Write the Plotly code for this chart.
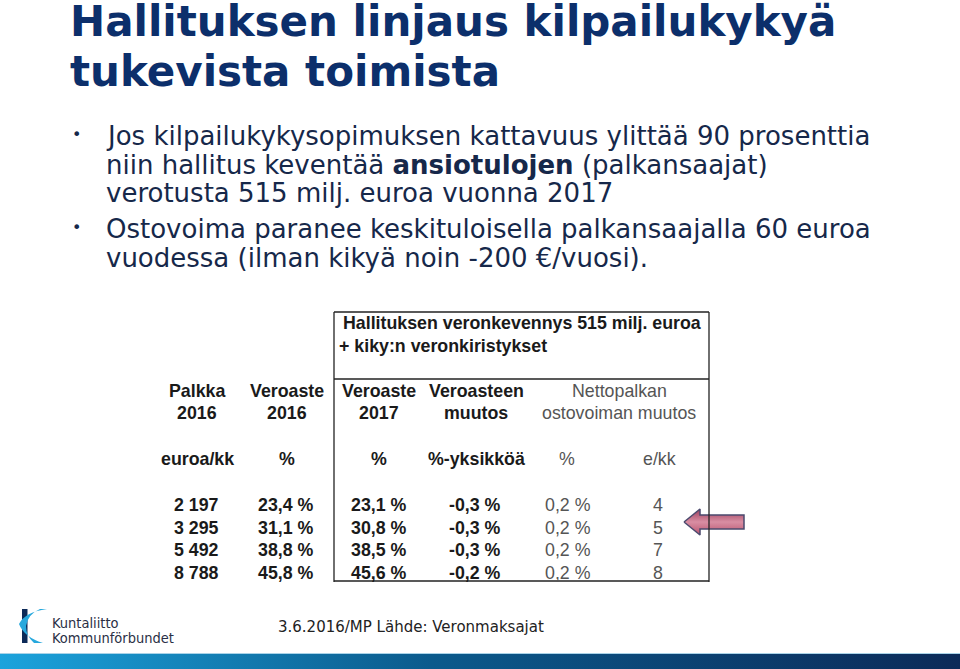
import plotly.graph_objects as go

# ---------------- data ----------------
title_lines = ["Hallituksen linjaus kilpailukykyä", "tukevista toimista"]
bullet1 = ["Jos kilpailukykysopimuksen kattavuus ylittää 90 prosenttia",
           "niin hallitus keventää <b>ansiotulojen</b> (palkansaajat)",
           "verotusta 515 milj. euroa vuonna 2017"]
bullet2 = ["Ostovoima paranee keskituloisella palkansaajalla 60 euroa",
           "vuodessa (ilman kikyä noin -200 €/vuosi)."]
box_title = ["Hallituksen veronkevennys 515 milj. euroa", "+ kiky:n veronkiristykset"]
col_headers = [["Palkka", "2016"], ["Veroaste", "2016"], ["Veroaste", "2017"],
               ["Veroasteen", "muutos"], ["Nettopalkan", "ostovoiman muutos"]]
units = ["euroa/kk", "%", "%", "%-yksikköä", "%", "e/kk"]
palkka_2016 = [2197, 3295, 5492, 8788]
veroaste_2016 = [23.4, 31.1, 38.8, 45.8]
veroaste_2017 = [23.1, 30.8, 38.5, 45.6]
veroasteen_muutos = [-0.3, -0.3, -0.3, -0.2]
ostovoima_pct = [0.2, 0.2, 0.2, 0.2]
ostovoima_ekk = [4, 5, 7, 8]
footer_logo = ["Kuntaliitto", "Kommunförbundet"]
footer_text = "3.6.2016/MP Lähde: Veronmaksajat"

# ---------------- helpers ----------------
def fi_pct(v):
    return f"{v:.1f}".replace(".", ",") + " %"

def fi_int(v):
    return f"{v:,}".replace(",", " ")

NAVY = "#0c2f6b"
BODY = "#16284a"
TBL = "#1a1a1a"
GREY = "#555555"
BODY_FONT = "DejaVu Sans, Verdana, sans-serif"
TBL_FONT = "Liberation Sans, Arial, sans-serif"
TS = 17.8

fig = go.Figure()
ann = []
shapes = []

def text(x, y, s, size, color, family, xanchor="left", bold=False, pad=1):
    if bold:
        s = f"<b>{s}</b>"
    ann.append(dict(x=x, y=y, xref="x", yref="y", text=s, showarrow=False,
                    xanchor=xanchor, yanchor="middle", borderpad=pad,
                    font=dict(size=size, color=color, family=family)))

# title
for i, line in enumerate(title_lines):
    text(69, 21 + i * 50, line, 42, NAVY, "DejaVu Sans", bold=True, pad=0)

# bullets
for i, line in enumerate(bullet1):
    text(104, 136 + i * 28.5, line, 26, BODY, BODY_FONT)
text(70, 134, "•", 16, BODY, BODY_FONT)
for i, line in enumerate(bullet2):
    text(104, 229 + i * 28.5, line, 26, BODY, BODY_FONT)
text(70, 227, "•", 16, BODY, BODY_FONT)

# table box
line_style = dict(color="#222222", width=1.3)
shapes.append(dict(type="line", xref="x", yref="y", x0=334, x1=709, y0=312, y1=312, line=line_style))
shapes.append(dict(type="line", xref="x", yref="y", x0=334, x1=334, y0=312, y1=582, line=line_style))
shapes.append(dict(type="line", xref="x", yref="y", x0=709, x1=709, y0=312, y1=582, line=line_style))
shapes.append(dict(type="line", xref="x", yref="y", x0=334, x1=709, y0=379, y1=379, line=line_style))
shapes.append(dict(type="line", xref="x", yref="y", x0=334, x1=709, y0=581, y1=581, line=line_style))

text(341, 323, box_title[0], TS, TBL, TBL_FONT, bold=True)
text(337, 346, box_title[1], TS, TBL, TBL_FONT, bold=True)

col_x = [197, 287, 379, 476, 619]
for j, (h1, h2) in enumerate(col_headers):
    bold = j < 4
    col = TBL if bold else GREY
    text(col_x[j], 391, h1, TS, col, TBL_FONT, xanchor="center", bold=bold)
    text(col_x[j], 413, h2, TS, col, TBL_FONT, xanchor="center", bold=bold)

unit_x = [197, 287, 379, 476, 567, 659]
for j, u in enumerate(units):
    bold = j < 4
    text(unit_x[j], 459, u, TS, TBL if bold else GREY, TBL_FONT, xanchor="center", bold=bold)

row_y = [505, 527.5, 550, 572.5]
for i in range(4):
    y = row_y[i]
    text(196, y, fi_int(palkka_2016[i]), TS, TBL, TBL_FONT, xanchor="center", bold=True)
    text(286, y, fi_pct(veroaste_2016[i]), TS, TBL, TBL_FONT, xanchor="center", bold=True)
    text(379, y, fi_pct(veroaste_2017[i]), TS, TBL, TBL_FONT, xanchor="center", bold=True)
    text(475, y, fi_pct(veroasteen_muutos[i]), TS, TBL, TBL_FONT, xanchor="center", bold=True)
    text(568, y, fi_pct(ostovoima_pct[i]), TS, GREY, TBL_FONT, xanchor="center")
    text(658, y, str(ostovoima_ekk[i]), TS, GREY, TBL_FONT, xanchor="center")

# arrow (pointing left) with vertical gradient
ax = [684, 700, 700, 744, 744, 700, 700, 684]
ay = [522, 509, 515, 515, 529, 529, 535, 522]
fig.add_trace(go.Scatter(x=ax, y=ay, mode="lines", fill="toself",
                         line=dict(color="#4b4a6e", width=1.5),
                         fillgradient=dict(type="vertical",
                                           colorscale=[[0, "#b8536e"], [0.5, "#d98ea3"], [1, "#9c3d5c"]]),
                         hoverinfo="skip", showlegend=False))

# footer band with horizontal gradient
fig.add_trace(go.Scatter(x=[0, 960, 960, 0, 0], y=[654, 654, 669, 669, 654], mode="lines",
                         fill="toself", line=dict(width=0),
                         fillgradient=dict(type="horizontal",
                                           colorscale=[[0, "#1ca3dc"], [0.45, "#0b5a8c"], [1, "#0c2a58"]]),
                         hoverinfo="skip", showlegend=False))
shapes.append(dict(type="line", xref="x", yref="y", x0=0, x1=960, y0=653.5, y1=653.5,
                   line=dict(color="#a9d3e8", width=1)))

# logo
shapes.append(dict(type="path", xref="x", yref="y",
                   path="M 22 609 L 27.5 609 L 27.5 643 L 22 643 Z", fillcolor="#0c2a58", line=dict(width=0)))
shapes.append(dict(type="path", xref="x", yref="y",
                   path="M 47 609 Q 25 612 19 624 Q 24 637 43 643 L 34 643 Q 26 636 26 626 Q 28 614 40 609 Z",
                   fillcolor="#27a8dd", line=dict(width=0)))
text(50, 623, footer_logo[0], 14.5, "#2a2f45", "DejaVu Sans Condensed, DejaVu Sans")
text(50, 638, footer_logo[1], 14.5, "#2a2f45", "DejaVu Sans Condensed, DejaVu Sans")
text(276, 627, footer_text, 15, "#222222", "DejaVu Sans")

fig.update_layout(
    width=960, height=669, margin=dict(l=0, r=0, t=0, b=0),
    paper_bgcolor="white", plot_bgcolor="white",
    xaxis=dict(range=[0, 960], visible=False, fixedrange=True),
    yaxis=dict(range=[669, 0], visible=False, fixedrange=True),
    annotations=ann, shapes=shapes, showlegend=False,
)
fig.write_html("out.html", post_script="document.body.style.margin='0';",
               config={"displayModeBar": False})
